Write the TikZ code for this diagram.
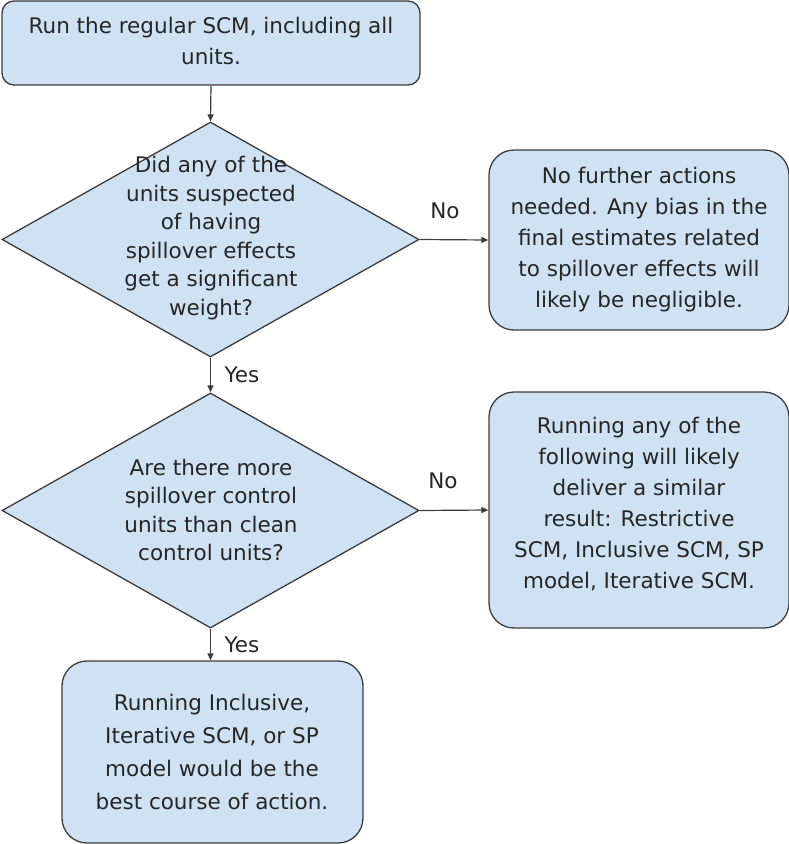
\documentclass[tikz,border=0pt]{standalone}
\usepackage{fontspec}
\setmainfont{DejaVu Sans}
\usetikzlibrary{shapes.geometric,arrows.meta}
\definecolor{boxfill}{HTML}{CFE2F3}
\definecolor{boxline}{HTML}{3C3C3C}
\definecolor{txt}{HTML}{262626}
\tikzset{
  x=1pt,y=-1pt,
  every node/.style={text=txt,font=\fontsize{21.5}{31}\selectfont},
  rbox/.style={draw=boxline,fill=boxfill,line width=1.3pt,rounded corners=#1,inner sep=0pt},
  dshape/.style={diamond,draw=boxline,fill=boxfill,line width=1.3pt,inner sep=0pt,minimum width=417pt,minimum height=235pt},
  txtnode/.style={align=center,inner sep=0pt},
  conn/.style={draw=boxline,line width=1.2pt,-{Triangle[length=7pt,width=6pt]}},
  lbl/.style={inner sep=0pt}
}
\begin{document}
\begin{tikzpicture}
\useasboundingbox (0,0) rectangle (789,844);
% box 1
\node[rbox=12pt,minimum width=418pt,minimum height=84pt] (b1) at (211,43) {};
\node[txtnode] (t1) at (211,41) {Run the regular SCM, including all\\units.};
% diamond 1
\node[dshape] (d1) at (210.5,239.5) {};
\node[txtnode,font=\fontsize{21.5}{28.5}\selectfont] (t2) at (211,238) {Did any of the\\units suspected\\of having\\spillover effects\\get a significant\\weight?};
% box 2
\node[rbox=25pt,minimum width=300pt,minimum height=180pt] (b2) at (639,240) {};
\node[txtnode] (t3) at (639,240) {No further actions\\needed. Any bias in the\\final estimates related\\to spillover effects will\\likely be negligible.};
% diamond 2
\node[dshape] (d2) at (210.5,510.5) {};
\node[txtnode,font=\fontsize{21.5}{28.5}\selectfont] (t4) at (211,510) {Are there more\\spillover control\\units than clean\\control units?};
% box 3
\node[rbox=25pt,minimum width=300pt,minimum height=236pt] (b3) at (639,510) {};
\node[txtnode] (t5) at (639,504) {Running any of the\\following will likely\\deliver a similar\\result: Restrictive\\SCM, Inclusive SCM, SP\\model, Iterative SCM.};
% box 4
\node[rbox=25pt,minimum width=301pt,minimum height=182pt] (b4) at (212.5,752) {};
\node[txtnode,font=\fontsize{21.5}{33}\selectfont] (t6) at (212,752) {Running Inclusive,\\Iterative SCM, or SP\\model would be the\\best course of action.};
% connectors
\draw[conn] (b1.south) -- (d1.north);
\draw[conn] (d1.east) -- (b2.west);
\draw[conn] (d1.south) -- (d2.north);
\draw[conn] (d2.east) -- (b3.west);
\draw[conn] (d2.south) -- (b4.north -| d2.south);
% labels
\node[lbl] (l1) at (445,211) {No};
\node[lbl] (l2) at (242,375) {Yes};
\node[lbl] (l3) at (443,481) {No};
\node[lbl] (l4) at (242,645) {Yes};
\end{tikzpicture}
\end{document}
